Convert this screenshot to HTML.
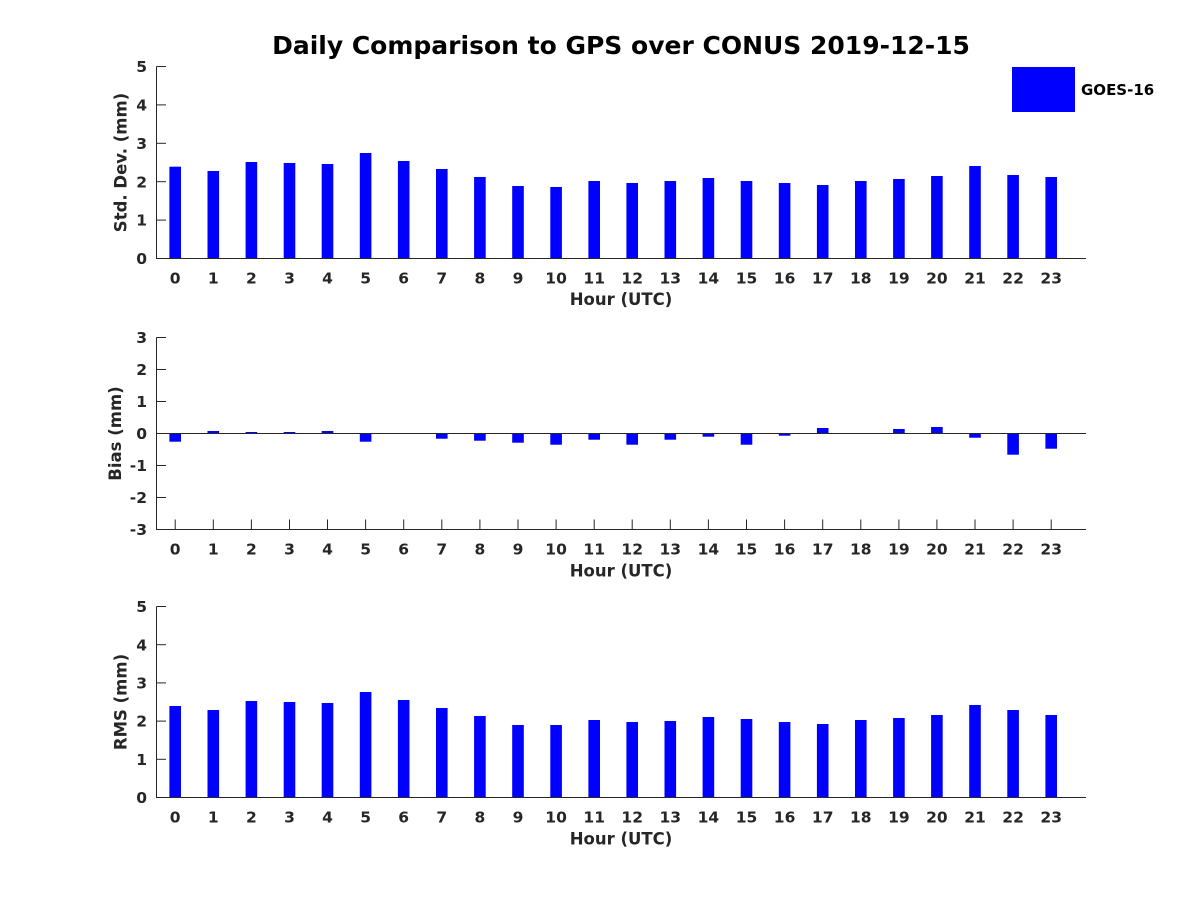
<!DOCTYPE html>
<html>
<head>
<meta charset="utf-8">
<style>
  html, body { margin: 0; padding: 0; background: #fff; }
  svg { display: block; }
  text { font-family: "DejaVu Sans", "Liberation Sans", sans-serif; font-weight: bold; }
  .tk { font-size: 15.5px; fill: #262626; }
  .lb { font-size: 16.5px; fill: #262626; }
</style>
</head>
<body>
<svg width="1200" height="900" viewBox="0 0 1200 900" xmlns="http://www.w3.org/2000/svg">
  <rect x="0" y="0" width="1200" height="900" fill="#fff"/>

  <!-- Title -->
  <text x="621" y="54" text-anchor="middle" font-size="25" fill="#000">Daily Comparison to GPS over CONUS 2019-12-15</text>

  <!-- ============ Panel 1: Std. Dev. ============ -->
  <g fill="#0000ff">
    <rect x="169.4" y="166.7" width="11.6" height="91.8"/>
    <rect x="207.5" y="171" width="11.6" height="87.5"/>
    <rect x="245.6" y="162" width="11.6" height="96.5"/>
    <rect x="283.7" y="163" width="11.6" height="95.5"/>
    <rect x="321.7" y="164" width="11.6" height="94.5"/>
    <rect x="359.8" y="153" width="11.6" height="105.5"/>
    <rect x="397.9" y="161" width="11.6" height="97.5"/>
    <rect x="436.0" y="169" width="11.6" height="89.5"/>
    <rect x="474.1" y="177" width="11.6" height="81.5"/>
    <rect x="512.2" y="186" width="11.6" height="72.5"/>
    <rect x="550.3" y="187" width="11.6" height="71.5"/>
    <rect x="588.4" y="181" width="11.6" height="77.5"/>
    <rect x="626.4" y="183" width="11.6" height="75.5"/>
    <rect x="664.5" y="181" width="11.6" height="77.5"/>
    <rect x="702.6" y="178" width="11.6" height="80.5"/>
    <rect x="740.7" y="181" width="11.6" height="77.5"/>
    <rect x="778.8" y="183" width="11.6" height="75.5"/>
    <rect x="816.9" y="185" width="11.6" height="73.5"/>
    <rect x="855.0" y="181" width="11.6" height="77.5"/>
    <rect x="893.1" y="179" width="11.6" height="79.5"/>
    <rect x="931.1" y="176" width="11.6" height="82.5"/>
    <rect x="969.2" y="166" width="11.6" height="92.5"/>
    <rect x="1007.3" y="175" width="11.6" height="83.5"/>
    <rect x="1045.4" y="177" width="11.6" height="81.5"/>
  </g>
  <g stroke="#262626" stroke-width="1" fill="none">
    <line x1="156.5" y1="66.5" x2="156.5" y2="259"/>
    <line x1="156" y1="258.5" x2="1086" y2="258.5"/>
    <line x1="156.5" y1="66.5" x2="166" y2="66.5"/>
    <line x1="156.5" y1="104.9" x2="166" y2="104.9"/>
    <line x1="156.5" y1="143.3" x2="166" y2="143.3"/>
    <line x1="156.5" y1="181.7" x2="166" y2="181.7"/>
    <line x1="156.5" y1="220.1" x2="166" y2="220.1"/>
  </g>
  <g class="tk" text-anchor="end">
    <text x="147" y="72.1">5</text>
    <text x="147" y="110.5">4</text>
    <text x="147" y="148.9">3</text>
    <text x="147" y="187.3">2</text>
    <text x="147" y="225.7">1</text>
    <text x="147" y="264.1">0</text>
  </g>
  <g class="tk" text-anchor="middle">
    <text x="175.2" y="283.3">0</text><text x="213.3" y="283.3">1</text><text x="251.4" y="283.3">2</text><text x="289.5" y="283.3">3</text>
    <text x="327.5" y="283.3">4</text><text x="365.6" y="283.3">5</text><text x="403.7" y="283.3">6</text><text x="441.8" y="283.3">7</text>
    <text x="479.9" y="283.3">8</text><text x="518.0" y="283.3">9</text><text x="556.1" y="283.3">10</text><text x="594.2" y="283.3">11</text>
    <text x="632.2" y="283.3">12</text><text x="670.3" y="283.3">13</text><text x="708.4" y="283.3">14</text><text x="746.5" y="283.3">15</text>
    <text x="784.6" y="283.3">16</text><text x="822.7" y="283.3">17</text><text x="860.8" y="283.3">18</text><text x="898.9" y="283.3">19</text>
    <text x="936.9" y="283.3">20</text><text x="975.0" y="283.3">21</text><text x="1013.1" y="283.3">22</text><text x="1051.2" y="283.3">23</text>
  </g>
  <text class="lb" x="621" y="305" text-anchor="middle">Hour (UTC)</text>
  <text class="lb" x="0" y="0" text-anchor="middle" transform="translate(126.5,162.5) rotate(-90)">Std. Dev. (mm)</text>

  <!-- Legend -->
  <rect x="1012" y="67" width="63" height="45" fill="#0000ff"/>
  <text x="1081" y="95" font-size="15" fill="#000">GOES-16</text>

  <!-- ============ Panel 2: Bias ============ -->
  <g stroke="#262626" stroke-width="1" fill="none">
    <line x1="156.5" y1="337.5" x2="156.5" y2="530"/>
    <line x1="156" y1="529.5" x2="1086" y2="529.5"/>
    <line x1="156.5" y1="337.5" x2="166" y2="337.5"/>
    <line x1="156.5" y1="369.5" x2="166" y2="369.5"/>
    <line x1="156.5" y1="401.5" x2="166" y2="401.5"/>
    <line x1="156.5" y1="433.5" x2="166" y2="433.5"/>
    <line x1="156.5" y1="465.5" x2="166" y2="465.5"/>
    <line x1="156.5" y1="497.5" x2="166" y2="497.5"/>
    <g>
      <line x1="175.2" y1="529.5" x2="175.2" y2="519.5"/><line x1="213.3" y1="529.5" x2="213.3" y2="519.5"/>
      <line x1="251.4" y1="529.5" x2="251.4" y2="519.5"/><line x1="289.5" y1="529.5" x2="289.5" y2="519.5"/>
      <line x1="327.5" y1="529.5" x2="327.5" y2="519.5"/><line x1="365.6" y1="529.5" x2="365.6" y2="519.5"/>
      <line x1="403.7" y1="529.5" x2="403.7" y2="519.5"/><line x1="441.8" y1="529.5" x2="441.8" y2="519.5"/>
      <line x1="479.9" y1="529.5" x2="479.9" y2="519.5"/><line x1="518.0" y1="529.5" x2="518.0" y2="519.5"/>
      <line x1="556.1" y1="529.5" x2="556.1" y2="519.5"/><line x1="594.2" y1="529.5" x2="594.2" y2="519.5"/>
      <line x1="632.2" y1="529.5" x2="632.2" y2="519.5"/><line x1="670.3" y1="529.5" x2="670.3" y2="519.5"/>
      <line x1="708.4" y1="529.5" x2="708.4" y2="519.5"/><line x1="746.5" y1="529.5" x2="746.5" y2="519.5"/>
      <line x1="784.6" y1="529.5" x2="784.6" y2="519.5"/><line x1="822.7" y1="529.5" x2="822.7" y2="519.5"/>
      <line x1="860.8" y1="529.5" x2="860.8" y2="519.5"/><line x1="898.9" y1="529.5" x2="898.9" y2="519.5"/>
      <line x1="936.9" y1="529.5" x2="936.9" y2="519.5"/><line x1="975.0" y1="529.5" x2="975.0" y2="519.5"/>
      <line x1="1013.1" y1="529.5" x2="1013.1" y2="519.5"/><line x1="1051.2" y1="529.5" x2="1051.2" y2="519.5"/>
    </g>
  </g>
  <g fill="#0000ff">
    <rect x="169.4" y="433.5" width="11.6" height="8.2"/>
    <rect x="207.5" y="431" width="11.6" height="2.5"/>
    <rect x="245.6" y="432" width="11.6" height="1.5"/>
    <rect x="283.7" y="432" width="11.6" height="1.5"/>
    <rect x="321.7" y="431" width="11.6" height="2.5"/>
    <rect x="359.8" y="433.5" width="11.6" height="8.2"/>
    <rect x="397.9" y="433.5" width="11.6" height="0.4"/>
    <rect x="436.0" y="433.5" width="11.6" height="5.2"/>
    <rect x="474.1" y="433.5" width="11.6" height="7.2"/>
    <rect x="512.2" y="433.5" width="11.6" height="9.2"/>
    <rect x="550.3" y="433.5" width="11.6" height="11.2"/>
    <rect x="588.4" y="433.5" width="11.6" height="6.2"/>
    <rect x="626.4" y="433.5" width="11.6" height="11.2"/>
    <rect x="664.5" y="433.5" width="11.6" height="6.2"/>
    <rect x="702.6" y="433.5" width="11.6" height="3.2"/>
    <rect x="740.7" y="433.5" width="11.6" height="11.2"/>
    <rect x="778.8" y="433.5" width="11.6" height="2.2"/>
    <rect x="816.9" y="428" width="11.6" height="5.5"/>
    <rect x="855.0" y="433.5" width="11.6" height="0.3"/>
    <rect x="893.1" y="429" width="11.6" height="4.5"/>
    <rect x="931.1" y="427" width="11.6" height="6.5"/>
    <rect x="969.2" y="433.5" width="11.6" height="4.2"/>
    <rect x="1007.3" y="433.5" width="11.6" height="21.2"/>
    <rect x="1045.4" y="433.5" width="11.6" height="15.2"/>
  </g>
  <line x1="156.5" y1="433.5" x2="1086" y2="433.5" stroke="#262626" stroke-width="1"/>
  <g class="tk" text-anchor="end">
    <text x="147" y="343.1">3</text>
    <text x="147" y="375.1">2</text>
    <text x="147" y="407.1">1</text>
    <text x="147" y="439.1">0</text>
    <text x="147" y="471.1">-1</text>
    <text x="147" y="503.1">-2</text>
    <text x="147" y="535.1">-3</text>
  </g>
  <g class="tk" text-anchor="middle">
    <text x="175.2" y="554.3">0</text><text x="213.3" y="554.3">1</text><text x="251.4" y="554.3">2</text><text x="289.5" y="554.3">3</text>
    <text x="327.5" y="554.3">4</text><text x="365.6" y="554.3">5</text><text x="403.7" y="554.3">6</text><text x="441.8" y="554.3">7</text>
    <text x="479.9" y="554.3">8</text><text x="518.0" y="554.3">9</text><text x="556.1" y="554.3">10</text><text x="594.2" y="554.3">11</text>
    <text x="632.2" y="554.3">12</text><text x="670.3" y="554.3">13</text><text x="708.4" y="554.3">14</text><text x="746.5" y="554.3">15</text>
    <text x="784.6" y="554.3">16</text><text x="822.7" y="554.3">17</text><text x="860.8" y="554.3">18</text><text x="898.9" y="554.3">19</text>
    <text x="936.9" y="554.3">20</text><text x="975.0" y="554.3">21</text><text x="1013.1" y="554.3">22</text><text x="1051.2" y="554.3">23</text>
  </g>
  <text class="lb" x="621" y="576.5" text-anchor="middle">Hour (UTC)</text>
  <text class="lb" x="0" y="0" text-anchor="middle" transform="translate(121,433.5) rotate(-90)">Bias (mm)</text>

  <!-- ============ Panel 3: RMS ============ -->
  <g fill="#0000ff">
    <rect x="169.4" y="706" width="11.6" height="91.5"/>
    <rect x="207.5" y="710" width="11.6" height="87.5"/>
    <rect x="245.6" y="701" width="11.6" height="96.5"/>
    <rect x="283.7" y="702" width="11.6" height="95.5"/>
    <rect x="321.7" y="703" width="11.6" height="94.5"/>
    <rect x="359.8" y="692" width="11.6" height="105.5"/>
    <rect x="397.9" y="700" width="11.6" height="97.5"/>
    <rect x="436.0" y="708" width="11.6" height="89.5"/>
    <rect x="474.1" y="716" width="11.6" height="81.5"/>
    <rect x="512.2" y="725" width="11.6" height="72.5"/>
    <rect x="550.3" y="725" width="11.6" height="72.5"/>
    <rect x="588.4" y="720" width="11.6" height="77.5"/>
    <rect x="626.4" y="722" width="11.6" height="75.5"/>
    <rect x="664.5" y="721" width="11.6" height="76.5"/>
    <rect x="702.6" y="717" width="11.6" height="80.5"/>
    <rect x="740.7" y="719" width="11.6" height="78.5"/>
    <rect x="778.8" y="722" width="11.6" height="75.5"/>
    <rect x="816.9" y="724" width="11.6" height="73.5"/>
    <rect x="855.0" y="720" width="11.6" height="77.5"/>
    <rect x="893.1" y="718" width="11.6" height="79.5"/>
    <rect x="931.1" y="715" width="11.6" height="82.5"/>
    <rect x="969.2" y="705" width="11.6" height="92.5"/>
    <rect x="1007.3" y="710" width="11.6" height="87.5"/>
    <rect x="1045.4" y="715" width="11.6" height="82.5"/>
  </g>
  <g stroke="#262626" stroke-width="1" fill="none">
    <line x1="156.5" y1="606.5" x2="156.5" y2="798"/>
    <line x1="156" y1="797.5" x2="1086" y2="797.5"/>
    <line x1="156.5" y1="606.5" x2="166" y2="606.5"/>
    <line x1="156.5" y1="644.7" x2="166" y2="644.7"/>
    <line x1="156.5" y1="682.9" x2="166" y2="682.9"/>
    <line x1="156.5" y1="721.1" x2="166" y2="721.1"/>
    <line x1="156.5" y1="759.3" x2="166" y2="759.3"/>
  </g>
  <g class="tk" text-anchor="end">
    <text x="147" y="612.1">5</text>
    <text x="147" y="650.3">4</text>
    <text x="147" y="688.5">3</text>
    <text x="147" y="726.7">2</text>
    <text x="147" y="764.9">1</text>
    <text x="147" y="803.1">0</text>
  </g>
  <g class="tk" text-anchor="middle">
    <text x="175.2" y="822.3">0</text><text x="213.3" y="822.3">1</text><text x="251.4" y="822.3">2</text><text x="289.5" y="822.3">3</text>
    <text x="327.5" y="822.3">4</text><text x="365.6" y="822.3">5</text><text x="403.7" y="822.3">6</text><text x="441.8" y="822.3">7</text>
    <text x="479.9" y="822.3">8</text><text x="518.0" y="822.3">9</text><text x="556.1" y="822.3">10</text><text x="594.2" y="822.3">11</text>
    <text x="632.2" y="822.3">12</text><text x="670.3" y="822.3">13</text><text x="708.4" y="822.3">14</text><text x="746.5" y="822.3">15</text>
    <text x="784.6" y="822.3">16</text><text x="822.7" y="822.3">17</text><text x="860.8" y="822.3">18</text><text x="898.9" y="822.3">19</text>
    <text x="936.9" y="822.3">20</text><text x="975.0" y="822.3">21</text><text x="1013.1" y="822.3">22</text><text x="1051.2" y="822.3">23</text>
  </g>
  <text class="lb" x="621" y="844.5" text-anchor="middle">Hour (UTC)</text>
  <text class="lb" x="0" y="0" text-anchor="middle" transform="translate(126.5,702) rotate(-90)">RMS (mm)</text>
</svg>
</body>
</html>
